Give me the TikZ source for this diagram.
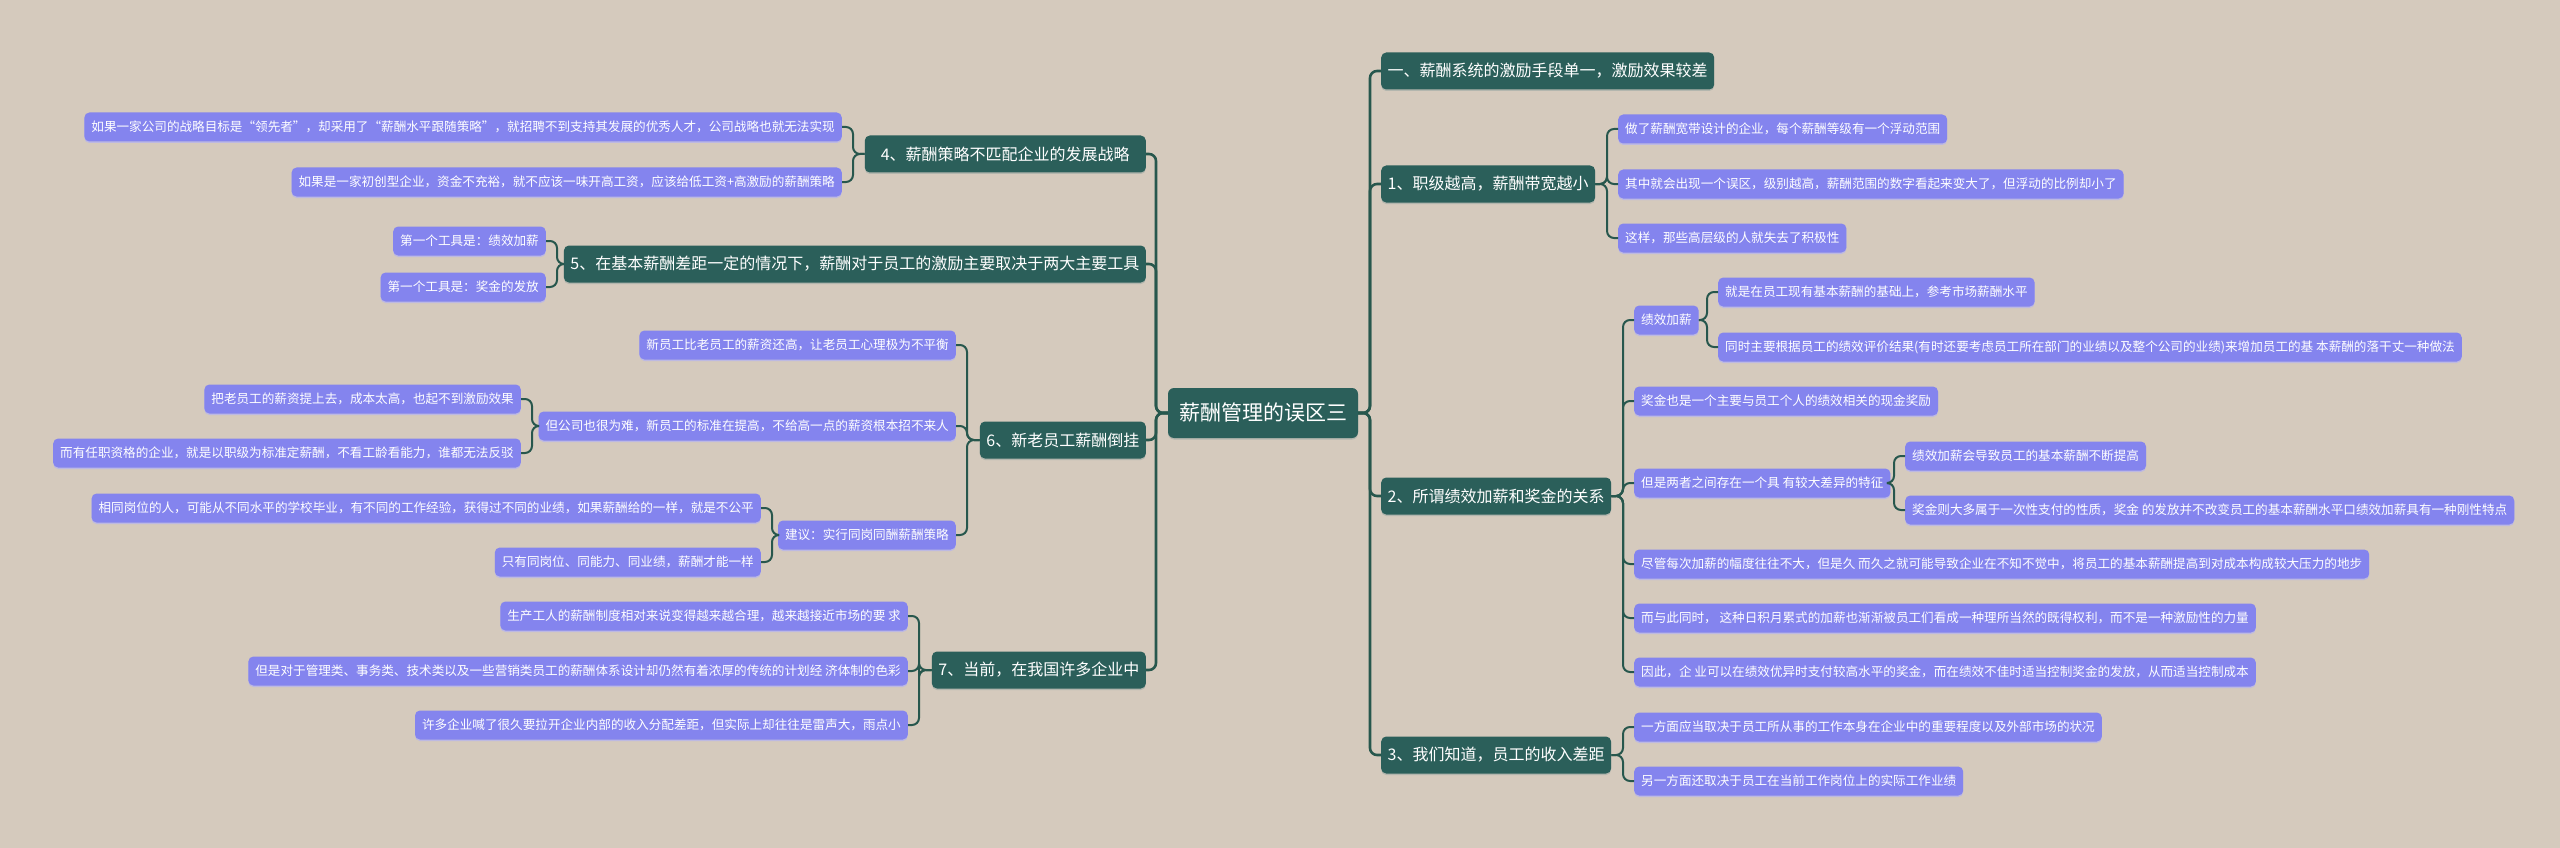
\documentclass[tikz,border=0pt]{standalone}
\usepackage{fontspec}
\setmainfont{Noto Sans CJK SC}
\usetikzlibrary{calc,shadows}
\definecolor{bgc}{HTML}{D5CABD}
\definecolor{mainc}{HTML}{2B5F5A}
\definecolor{leafc}{HTML}{8484EE}
\definecolor{linec}{HTML}{27574D}
\definecolor{leafsh}{HTML}{BDB9E2}
\definecolor{mainsh}{HTML}{B3B6AE}
\begin{document}
\begin{tikzpicture}[x=1pt,y=-1pt,
  rootbox/.style={fill=mainc, text=white, rounded corners=6pt, font=\fontsize{21}{24}\selectfont,
    inner xsep=11pt, inner ysep=0pt, minimum height=50pt,
    drop shadow={shadow xshift=0pt, shadow yshift=-1.5pt, fill=mainsh, opacity=1}},
  mainbox/.style={fill=mainc, text=white, rounded corners=5pt, font=\fontsize{16}{19}\selectfont,
    inner xsep=6.5pt, inner ysep=0pt, minimum height=37pt,
    drop shadow={shadow xshift=0pt, shadow yshift=-1.5pt, fill=mainsh, opacity=1}},
  leafbox/.style={fill=leafc, text=white, rounded corners=5pt, font=\fontsize{12.6}{15}\selectfont,
    inner xsep=7pt, inner ysep=0pt, minimum height=29pt,
    drop shadow={shadow xshift=0pt, shadow yshift=-1.5pt, fill=leafsh, opacity=1}},
  rootconn/.style={draw=linec, line width=2.6pt, rounded corners=7pt},
  conn/.style={draw=linec, line width=2pt, rounded corners=7pt}]
\fill[bgc] (0,0) rectangle (2560,848);
\useasboundingbox (0,0) rectangle (2560,848);

% central
\node[rootbox] (c) at (1263,413) {薪酬管理的误区三};

% left main branches
\node[mainbox, anchor=east, minimum width=281pt] (n4) at (1146,154) {4、薪酬策略不匹配企业的发展战略};
\node[mainbox, anchor=east] (n5) at (1146,264) {5、在基本薪酬差距一定的情况下，薪酬对于员工的激励主要取决于两大主要工具};
\node[mainbox, anchor=east] (n6) at (1146,440) {6、新老员工薪酬倒挂};
\node[mainbox, anchor=east] (n7) at (1146,670) {7、当前，在我国许多企业中};

% right main branches
\node[mainbox, anchor=west] (r0) at (1381,71) {一、薪酬系统的激励手段单一，激励效果较差};
\node[mainbox, anchor=west] (r1) at (1381,184) {1、职级越高，薪酬带宽越小};
\node[mainbox, anchor=west] (r2) at (1381,496) {2、所谓绩效加薪和奖金的关系};
\node[mainbox, anchor=west] (r3) at (1381,755) {3、我们知道，员工的收入差距};

% left leaves
\node[leafbox, anchor=east] (l4a) at (842,127) {如果一家公司的战略目标是“领先者”，却采用了“薪酬水平跟随策略”，就招聘不到支持其发展的优秀人才，公司战略也就无法实现};
\node[leafbox, anchor=east] (l4b) at (842,182) {如果是一家初创型企业，资金不充裕，就不应该一味开高工资，应该给低工资+高激励的薪酬策略};
\node[leafbox, anchor=east] (l5a) at (546,241) {第一个工具是：绩效加薪};
\node[leafbox, anchor=east] (l5b) at (546,287) {第一个工具是：奖金的发放};
\node[leafbox, anchor=east] (l6a) at (956,345) {新员工比老员工的薪资还高，让老员工心理极为不平衡};
\node[leafbox, anchor=east] (l6b) at (956,426) {但公司也很为难，新员工的标准在提高，不给高一点的薪资根本招不来人};
\node[leafbox, anchor=east] (l6c) at (956,535) {建议：实行同岗同酬薪酬策略};
\node[leafbox, anchor=east] (l6b1) at (521,399) {把老员工的薪资提上去，成本太高，也起不到激励效果};
\node[leafbox, anchor=east] (l6b2) at (521,453) {而有任职资格的企业，就是以职级为标准定薪酬，不看工龄看能力，谁都无法反驳};
\node[leafbox, anchor=east] (l6c1) at (761,508) {相同岗位的人，可能从不同水平的学校毕业，有不同的工作经验，获得过不同的业绩，如果薪酬给的一样，就是不公平};
\node[leafbox, anchor=east] (l6c2) at (761,562) {只有同岗位、同能力、同业绩，薪酬才能一样};
\node[leafbox, anchor=east] (l7a) at (908,616) {生产工人的薪酬制度相对来说变得越来越合理，越来越接近市场的要 求};
\node[leafbox, anchor=east] (l7b) at (908,671) {但是对于管理类、事务类、技术类以及一些营销类员工的薪酬体系设计却仍然有着浓厚的传统的计划经 济体制的色彩};
\node[leafbox, anchor=east] (l7c) at (908,725) {许多企业喊了很久要拉开企业内部的收入分配差距，但实际上却往往是雷声大，雨点小};

% right leaves
\node[leafbox, anchor=west] (r1a) at (1618,129) {做了薪酬宽带设计的企业，每个薪酬等级有一个浮动范围};
\node[leafbox, anchor=west] (r1b) at (1618,184) {其中就会出现一个误区，级别越高，薪酬范围的数字看起来变大了，但浮动的比例却小了};
\node[leafbox, anchor=west] (r1c) at (1618,238) {这样，那些高层级的人就失去了积极性};
\node[leafbox, anchor=west] (r2a) at (1634,320) {绩效加薪};
\node[leafbox, anchor=west] (r2a1) at (1718,292) {就是在员工现有基本薪酬的基础上，参考市场薪酬水平};
\node[leafbox, anchor=west] (r2a2) at (1718,347) {同时主要根据员工的绩效评价结果(有时还要考虑员工所在部门的业绩以及整个公司的业绩)来增加员工的基 本薪酬的落干丈一种做法};
\node[leafbox, anchor=west] (r2b) at (1634,401) {奖金也是一个主要与员工个人的绩效相关的现金奖励};
\node[leafbox, anchor=west] (r2c) at (1634,483) {但是两者之间存在一个具 有较大差异的特征};
\node[leafbox, anchor=west] (r2c1) at (1905,456) {绩效加薪会导致员工的基本薪酬不断提高};
\node[leafbox, anchor=west] (r2c2) at (1905,510) {奖金则大多属于一次性支付的性质，奖金 的发放并不改变员工的基本薪酬水平口绩效加薪具有一种刚性特点};
\node[leafbox, anchor=west] (r2d) at (1634,564) {尽管每次加薪的幅度往往不大，但是久 而久之就可能导致企业在不知不觉中，将员工的基本薪酬提高到对成本构成较大压力的地步};
\node[leafbox, anchor=west] (r2e) at (1634,618) {而与此同时， 这种日积月累式的加薪也渐渐被员工们看成一种理所当然的既得权利，而不是一种激励性的力量};
\node[leafbox, anchor=west] (r2f) at (1634,672) {因此，企 业可以在绩效优异时支付较高水平的奖金，而在绩效不佳时适当控制奖金的发放，从而适当控制成本};
\node[leafbox, anchor=west] (r3a) at (1634,727) {一方面应当取决于员工所从事的工作本身在企业中的重要程度以及外部市场的状况};
\node[leafbox, anchor=west] (r3b) at (1634,781) {另一方面还取决于员工在当前工作岗位上的实际工作业绩};

% root connectors
\foreach \n in {n4,n5,n6,n7}
  \draw[rootconn] (c.west) -| ([xshift=10pt]\n.east) -- (\n.east);
\foreach \n in {r0,r1,r2,r3}
  \draw[rootconn] (c.east) -| ([xshift=-11pt]\n.west) -- (\n.west);

% left leaf connectors
\foreach \p/\k in {n4/l4a,n4/l4b,n5/l5a,n5/l5b,n6/l6a,n6/l6b,n6/l6c,l6b/l6b1,l6b/l6b2,l6c/l6c1,l6c/l6c2,n7/l7a,n7/l7b,n7/l7c}
  \draw[conn] (\p.west) -| ([xshift=11pt]\k.east) -- (\k.east);

% right leaf connectors
\foreach \p/\k in {r1/r1a,r1/r1b,r1/r1c,r2/r2a,r2a/r2a1,r2a/r2a2,r2/r2b,r2/r2c,r2c/r2c1,r2c/r2c2,r2/r2d,r2/r2e,r2/r2f,r3/r3a,r3/r3b}
  \draw[conn] (\p.east) -| ([xshift=-11pt]\k.west) -- (\k.west);
\end{tikzpicture}
\end{document}
